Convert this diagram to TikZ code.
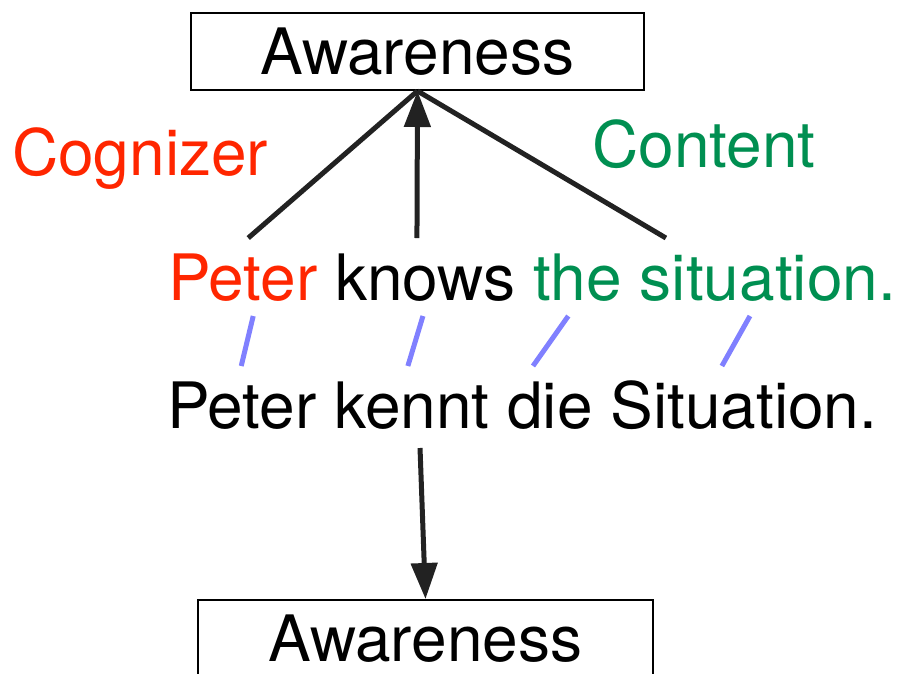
\documentclass[tikz,border=0pt]{standalone}
\usepackage{fontspec}
\setmainfont{TeX Gyre Heros}
\usepackage{xcolor}
\usetikzlibrary{arrows.meta,positioning}

\definecolor{roleRed}{RGB}{255,38,0}
\definecolor{roleGreen}{RGB}{0,143,81}
\definecolor{alignBlue}{RGB}{128,128,255}
\definecolor{lineGray}{RGB}{34,34,34}

\begin{document}
\begin{tikzpicture}[
    x=1pt, y=-1pt,
    node distance=17.8pt,
    every node/.style={font=\fontsize{64}{77}\selectfont},
    frame/.style={rectangle, draw, line width=2pt, minimum width=453pt, minimum height=77pt, inner sep=0pt},
    word/.style={inner sep=0pt, outer xsep=0pt, outer ysep=16pt, text height=46pt, text depth=0pt},
    role/.style={inner sep=0pt, anchor=base west},
    edge/.style={draw=lineGray, line width=5pt},
    arrow/.style={edge, -{Triangle[length=36pt, width=26pt]}},
    alignline/.style={draw=alignBlue, line width=5pt}
]
    \useasboundingbox (0,0) rectangle (899,673);
    \clip (0,0) rectangle (899,673);

    % frame boxes
    \node[frame] (aw1) at (417.5,51.5) {Awareness};
    \node[frame, minimum width=455pt] (aw2) at (425.5,638.5) {Awareness};

    % role names
    \node[role, text=roleRed] (cognizer) at (12,175) {Cognizer};
    \node[role, text=roleGreen] (content) at (592,167) {Content};

    % English sentence, one node per word
    \node[word, anchor=base west, text=roleRed] (peter) at (168,300) {Peter};
    \node[word, base right=of peter] (knows) {knows};
    \node[word, base right=of knows, text=roleGreen] (the) {the};
    \node[word, base right=of the, text=roleGreen] (situation) {situation.};

    % German sentence
    \node[word, anchor=base west] (peterDE) at (167,428) {Peter};
    \node[word, base right=of peterDE] (kennt) {kennt};
    \node[word, base right=of kennt] (die) {die};
    \node[word, base right=of die] (situationDE) {Situation.};

    % frame and its elements
    \draw[edge] ([xshift=5.5]peter.north) -- (aw1.south);
    \draw[arrow] ([xshift=-8.5]knows.north) -- (aw1.south);
    \draw[edge] ([xshift=26]situation.north west) -- (aw1.south);

    % word alignment
    \draw[alignline] ([xshift=10.5]peter.south) -- ([xshift=-0.5]peterDE.north);
    \draw[alignline] ([xshift=-2.5]knows.south) -- ([xshift=-4]kennt.north);
    \draw[alignline] ([xshift=-9.5]the.south) -- ([xshift=-17]die.north);
    \draw[alignline] ([xshift=-18]situation.south) -- ([xshift=-22]situationDE.north);

    % projected frame
    \draw[arrow, shorten <=4pt] ([xshift=8]kennt.south) -- (aw2.north);
\end{tikzpicture}
\end{document}
